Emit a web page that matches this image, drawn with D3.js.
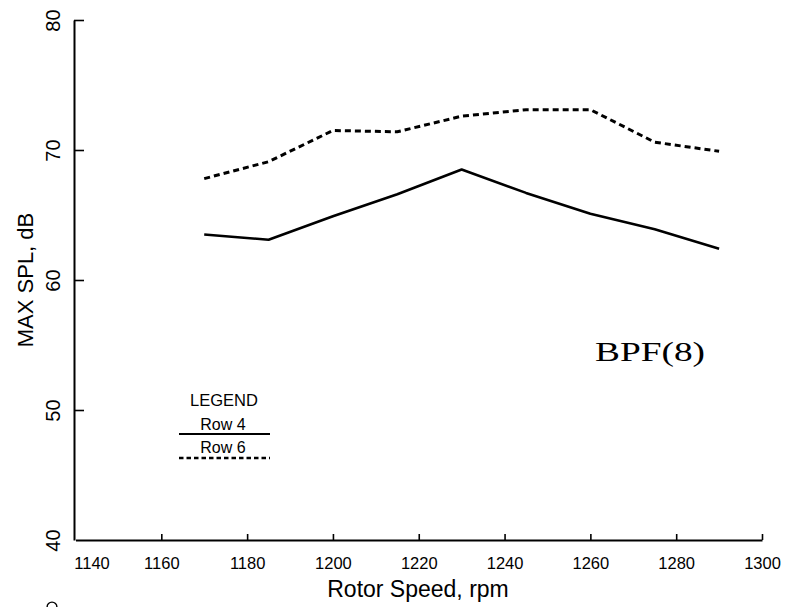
<!DOCTYPE html>
<html>
<head>
<meta charset="utf-8">
<script src="https://cdn.jsdelivr.net/npm/d3@7"></script>
<style>
  html, body { margin: 0; padding: 0; background: #fff; }
  svg { display: block; }
  text { font-family: "Liberation Sans", Arial, sans-serif; fill: #000; }
</style>
</head>
<body>
<svg id="chart" width="786" height="609"></svg>
<script>
// Rotor speed sweep, max SPL at BPF(8) for two microphone rows
const rpm = [1170, 1185, 1200, 1215, 1230, 1245, 1260, 1275, 1290];
const row4 = [63.5, 63.1, 64.9, 66.6, 68.5, 66.7, 65.1, 63.9, 62.4];
const row6 = [67.8, 69.1, 71.5, 71.4, 72.6, 73.1, 73.1, 70.6, 69.9];

const xTicks = [1140, 1160, 1180, 1200, 1220, 1240, 1260, 1280, 1300];
const yTicks = [40, 50, 60, 70, 80];

const seriesNames = ["Row 4", "Row 6"];

const svg = d3.select("#chart");

const x = d3.scaleLinear().domain([1140, 1300]).range([75.5, 762]);
const y = d3.scaleLinear().domain([40, 80]).range([540, 20]);

// x axis: ticks point up into the plot
const gx = svg.append("g")
  .attr("transform", `translate(0,${y(40)})`)
  .call(d3.axisBottom(x).tickValues(xTicks).tickSizeInner(-6).tickSizeOuter(0).tickPadding(17)
    .tickFormat(d3.format("d")));
gx.select(".domain").attr("stroke-width", 2);
gx.selectAll(".tick line").attr("stroke-width", 1.6);
gx.selectAll(".tick text").attr("font-size", 16.5)
  .attr("dx", d => d === 1140 ? 16 : 0);
gx.selectAll(".tick").filter(d => d === 1140).select("line").remove();

// y axis: ticks point right into the plot, labels rotated
const gy = svg.append("g")
  .attr("transform", `translate(${x(1140) - 1.5},0)`)
  .call(d3.axisLeft(y).tickValues(yTicks).tickSizeInner(-10).tickSizeOuter(0)
    .tickFormat(d3.format("d")));
gy.select(".domain").attr("stroke-width", 2);
gy.selectAll(".tick line").attr("stroke-width", 1.6);
gy.selectAll(".tick").filter(d => d === 40).select("line").remove();
gy.selectAll(".tick text")
  .attr("x", null).attr("dy", null)
  .attr("text-anchor", "middle")
  .attr("font-size", 20)
  .attr("transform", "translate(-14.5,0) rotate(-90)");

// axis titles
svg.append("text")
  .attr("x", 418).attr("y", 597)
  .attr("text-anchor", "middle")
  .attr("font-size", 23)
  .text("Rotor Speed, rpm");

svg.append("text")
  .attr("transform", "translate(33,280) rotate(-90)")
  .attr("text-anchor", "middle")
  .attr("font-size", 22)
  .text("MAX SPL, dB");

// series lines
const line = d3.line().x((d, i) => x(rpm[i])).y(d => y(d));

svg.append("path")
  .datum(row4)
  .attr("d", line)
  .attr("fill", "none")
  .attr("stroke", "#000")
  .attr("stroke-width", 2.6)
  .attr("stroke-linejoin", "round");

svg.append("path")
  .datum(row6)
  .attr("d", line)
  .attr("fill", "none")
  .attr("stroke", "#000")
  .attr("stroke-width", 3)
  .attr("stroke-dasharray", "6,4");

// band label, typewriter serif
svg.append("text")
  .attr("x", 595).attr("y", 361)
  .style("font-family", "'Liberation Serif', 'DejaVu Serif', serif")
  .style("font-size", "28px")
  .attr("textLength", 110)
  .attr("lengthAdjust", "spacingAndGlyphs")
  .text("BPF(8)");

// legend
const lg = svg.append("g");
lg.append("text")
  .attr("x", 224).attr("y", 406)
  .attr("text-anchor", "middle")
  .attr("font-size", 16.5)
  .text("LEGEND");
lg.append("text")
  .attr("x", 223).attr("y", 430)
  .attr("text-anchor", "middle")
  .attr("font-size", 16)
  .text(seriesNames[0]);
lg.append("line")
  .attr("x1", 179).attr("x2", 270).attr("y1", 434).attr("y2", 434)
  .attr("stroke", "#000").attr("stroke-width", 2.2);
lg.append("text")
  .attr("x", 223).attr("y", 453)
  .attr("text-anchor", "middle")
  .attr("font-size", 16)
  .text(seriesNames[1]);
lg.append("line")
  .attr("x1", 179).attr("x2", 270).attr("y1", 458).attr("y2", 458)
  .attr("stroke", "#000").attr("stroke-width", 2.6)
  .attr("stroke-dasharray", "4.5,3");

// small arc stroke showing at the bottom-left edge
svg.append("path")
  .attr("d", d3.arc()({ innerRadius: 4.2, outerRadius: 5.6, startAngle: -Math.PI / 2, endAngle: Math.PI / 2 }))
  .attr("transform", "translate(52,607)")
  .attr("fill", "#000");
</script>
</body>
</html>
